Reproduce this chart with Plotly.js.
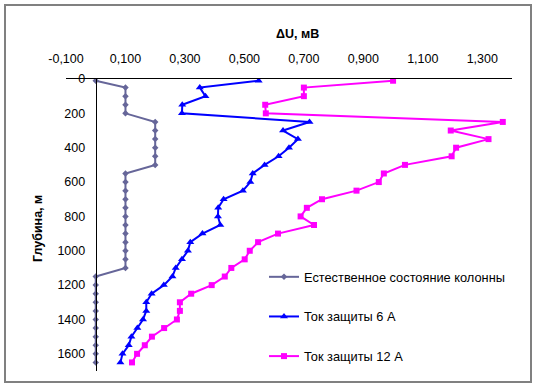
<!DOCTYPE html>
<html>
<head>
<meta charset="utf-8">
<script src="https://cdn.plot.ly/plotly-3.0.1.min.js"></script>
<style>
html,body{margin:0;padding:0;background:#fff;}
#chart{width:537px;height:387px;}
</style>
</head>
<body>
<div id="chart"></div>
<script>
// ---- data ----
var depths = [10,50,100,150,200,250,300,350,400,450,500,550,600,650,700,750,800,850,900,950,1000,1050,1100,1150,1200,1250,1300,1350,1400,1450,1500,1550,1600,1650];
var naturalState = [0,0.1,0.1,0.1,0.1,0.2,0.2,0.2,0.2,0.2,0.2,0.1,0.1,0.1,0.1,0.1,0.1,0.1,0.1,0.1,0.1,0.1,0.1,0,0,0,0,0,0,0,0,0,0,0];
var current6A = [0.548,0.350,0.369,0.291,0.290,0.719,0.630,0.680,0.650,0.615,0.568,0.528,0.520,0.495,0.430,0.412,0.411,0.419,0.359,0.318,0.310,0.290,0.269,0.258,0.229,0.188,0.170,0.170,0.159,0.140,0.120,0.111,0.090,0.083];
var current12A = [1.000,0.700,0.700,0.570,0.572,1.369,1.194,1.321,1.212,1.197,1.040,0.969,0.952,0.877,0.761,0.710,0.689,0.734,0.613,0.546,0.518,0.501,0.456,0.434,0.390,0.321,0.283,0.283,0.273,0.230,0.189,0.165,0.139,0.122];
var seriesNames = ['Естественное состояние колонны','Ток защиты 6 А','Ток защиты 12 А'];
var xTickVals = [-0.1,0.1,0.3,0.5,0.7,0.9,1.1,1.3];
var xTickLabels = ['-0,100','0,100','0,300','0,500','0,700','0,900','1,100','1,300'];
var yTickVals = [0,200,400,600,800,1000,1200,1400,1600];
var yTickLabels = ['0','200','400','600','800','1000','1200','1400','1600'];
var xTitle = 'ΔU, мВ';
var yTitle = 'Глубина, м';

// ---- layout helpers (pixel -> paper) ----
var W = 537, H = 387;
var M = {l:66, r:25, t:79, b:16};
var pw = W - M.l - M.r, ph = H - M.t - M.b;
function px(x){ return (x - M.l) / pw; }
function py(y){ return (H - M.b - y) / ph; }

var font = 'Arial, "Liberation Sans", sans-serif';

var traces = [
  {x: naturalState, y: depths, name: seriesNames[0], type:'scatter', mode:'lines+markers', legendgroup:'a',
   line:{color:'#666699', width:2}, marker:{symbol:'diamond', size:5, color:'#666699'}},
  {x: current6A, y: depths, name: seriesNames[1], type:'scatter', mode:'lines+markers', legendgroup:'b',
   line:{color:'#0000FF', width:2}, marker:{symbol:'triangle-up', size:7, color:'#0000FF'}},
  {x: current12A, y: depths, name: seriesNames[2], type:'scatter', mode:'lines+markers', legendgroup:'c',
   line:{color:'#FF00FF', width:2}, marker:{symbol:'square', size:6, color:'#FF00FF'}}
];

var layout = {
  width: W, height: H,
  margin: M,
  paper_bgcolor:'#fff', plot_bgcolor:'#fff',
  font:{family:font, size:12, color:'#000'},
  showlegend:true,
  legend:{x:px(264), y:py(262), xanchor:'left', yanchor:'top', bgcolor:'rgba(0,0,0,0)',
          font:{family:font, size:12.8, color:'#000'}, tracegroupgap:20, traceorder:'grouped', itemwidth:30},
  xaxis:{side:'top', range:[-0.1,1.4], tickvals:xTickVals, ticktext:xTickLabels,
         showgrid:false, zeroline:false, showline:true, linecolor:'#000', linewidth:1,
         ticks:'', ticklabelstandoff:10, tickfont:{family:font, size:12.5, color:'#000'}, fixedrange:true},
  yaxis:{range:[1700,0], tickvals:yTickVals, ticktext:yTickLabels,
         anchor:'free', position:(0-(-0.1))/1.5,
         showgrid:false, zeroline:false, showline:true, linecolor:'#000', linewidth:1,
         ticks:'', ticklabelstandoff:8, tickfont:{family:font, size:12.5, color:'#000'}, fixedrange:true},
  annotations:[
    {text:'<b>'+xTitle+'</b>', xref:'paper', yref:'paper', x:px(297), y:py(34), xanchor:'center', yanchor:'middle',
     showarrow:false, font:{family:font, size:12.5, color:'#000'}},
    {text:'<b>'+yTitle+'</b>', xref:'paper', yref:'paper', x:px(38), y:py(229), xanchor:'center', yanchor:'middle',
     textangle:-90, showarrow:false, font:{family:font, size:12.5, color:'#000'}}
  ],
  shapes:[
    {type:'rect', xref:'paper', yref:'paper', x0:px(5), x1:px(531), y0:py(382), y1:py(5),
     line:{color:'#808080', width:2}, fillcolor:'rgba(0,0,0,0)', layer:'below'}
  ]
};

Plotly.newPlot('chart', traces, layout, {displayModeBar:false, staticPlot:true});
</script>
</body>
</html>
